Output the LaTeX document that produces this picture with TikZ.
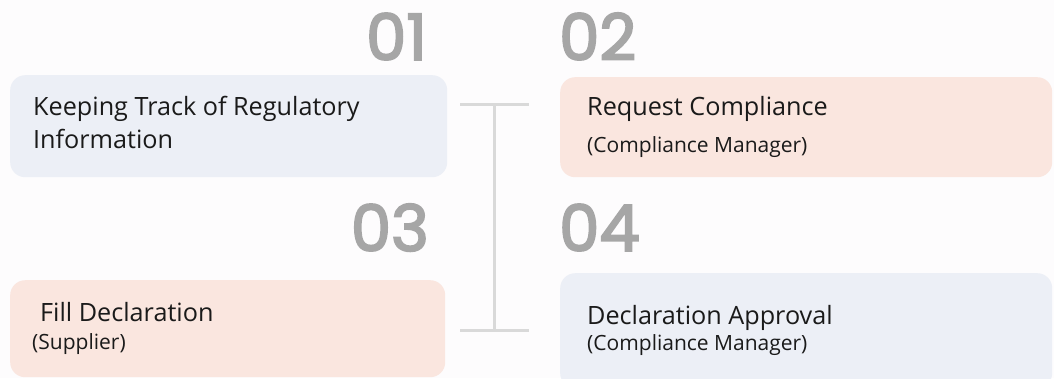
\documentclass[tikz,border=0pt]{standalone}
\usepackage{fontspec}
\setmainfont{Open Sans}
\newfontfamily\numfont{Poppins}[FakeBold=3]
\definecolor{bg}{RGB}{253,252,253}
\definecolor{boxblue}{RGB}{236,239,246}
\definecolor{boxpink}{RGB}{250,230,223}
\definecolor{numgray}{RGB}{166,166,166}
\definecolor{linegray}{RGB}{217,217,217}
\definecolor{txt}{RGB}{26,26,26}
\tikzset{
  card/.style={rectangle, rounded corners=15pt, draw=none, inner sep=0pt, anchor=north west},
  main/.style={anchor=base west, inner sep=0pt, text=txt, font=\fontsize{25.2}{29}\selectfont},
  sub/.style={anchor=base west, inner sep=0pt, text=txt, font=\fontsize{21}{25}\selectfont},
  num/.style={inner sep=0pt, text=numgray, font=\numfont\fontsize{64}{70}\selectfont},
  bracket/.style={draw=linegray, line width=3pt}
}
\begin{document}
\begin{tikzpicture}[x=1pt, y=-1pt]
\fill[bg] (0,0) rectangle (1054,378);
\useasboundingbox (0,0) rectangle (1054,378);
\begin{scope}
\clip (0,0) rectangle (1054,378);
\node[card, fill=boxblue, minimum width=437pt, minimum height=102pt] (b1) at (10,75) {};
\node[card, fill=boxpink, minimum width=492pt, minimum height=100pt] (b2) at (560,77) {};
\node[card, fill=boxpink, minimum width=435pt, minimum height=97pt] (b3) at (10,280) {};
\node[card, fill=boxblue, minimum width=492pt, minimum height=115pt] (b4) at (560,273) {};
\end{scope}

\node[num, anchor=base east] (n1) at (427,60) {01};
\node[num, anchor=base west] (n2) at (559,60) {02};
\node[num, anchor=base east] (n3) at (429,251) {03};
\node[num, anchor=base west] (n4) at (559,251) {04};

\node[main] (t1a) at (33,115) {Keeping Track of Regulatory};
\node[main] (t1b) at (33,148) {Information};
\node[main] (t2a) at (587,115) {Request Compliance};
\node[sub] (t2b) at (587,152) {(Compliance Manager)};
\node[main] (t3a) at (40,321) {Fill Declaration};
\node[sub] (t3b) at (32,349) {(Supplier)};
\node[main] (t4a) at (587,324) {Declaration Approval};
\node[sub] (t4b) at (587,350) {(Compliance Manager)};

\coordinate (tl) at (460,104);
\coordinate (tm) at (494,104);
\coordinate (tr) at (529,104);
\coordinate (bl) at (460,330);
\coordinate (bm) at (494,330);
\coordinate (br) at (529,330);
\draw[bracket] (tl) -- (tr);
\draw[bracket] (bl) -- (br);
\draw[bracket] (tm) -- (bm);
\end{tikzpicture}
\end{document}
